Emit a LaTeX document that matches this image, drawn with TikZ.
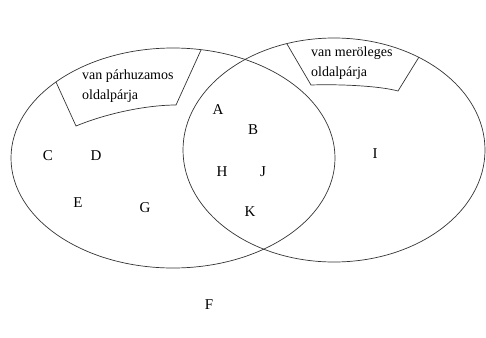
\documentclass[tikz,border=0pt]{standalone}
\usepackage{fontspec}
\setmainfont{Liberation Serif}
\usepackage{xcolor}
\definecolor{ink}{HTML}{333333}

\begin{document}
\begin{tikzpicture}[
    x=1pt, y=-1pt,
    set/.style={draw=ink, line width=0.7pt},
    tag/.style={draw=ink, line width=0.7pt},
    elem/.style={font=\fontsize{15}{15}\selectfont, inner sep=1pt},
    note/.style={font=\fontsize{14}{20}\selectfont, align=left, inner sep=0pt, anchor=west}
]
\useasboundingbox (0,0) rectangle (486,337);

% the two sets
\draw[set] (173,158) ellipse [x radius=162, y radius=110];
\draw[set] (334,150) ellipse [x radius=151, y radius=112];

% label boxes
\draw[tag] (56,82) -- (76,126) .. controls (110,112) and (150,105) .. (176,105) -- (201,50);
\node[note] (par) at (82,86) {van párhuzamos\\oldalpárja};
\draw[tag] (287,44) -- (311,85) .. controls (340,84) and (380,86) .. (398,91) -- (419,57);
\node[note] (mer) at (311,63) {van meröleges\\oldalpárja};

% elements
\node[elem] (A) at (218,110) {A};
\node[elem] (B) at (253,130) {B};
\node[elem] (C) at (48,156) {C};
\node[elem] (D) at (96,156) {D};
\node[elem] (E) at (78,203) {E};
\node[elem] (G) at (145,208) {G};
\node[elem] (H) at (222,172) {H};
\node[elem] (J) at (263,172) {J};
\node[elem] (K) at (250,212) {K};
\node[elem] (I) at (375,154) {I};
\node[elem] (F) at (209,305) {F};
\end{tikzpicture}
\end{document}
